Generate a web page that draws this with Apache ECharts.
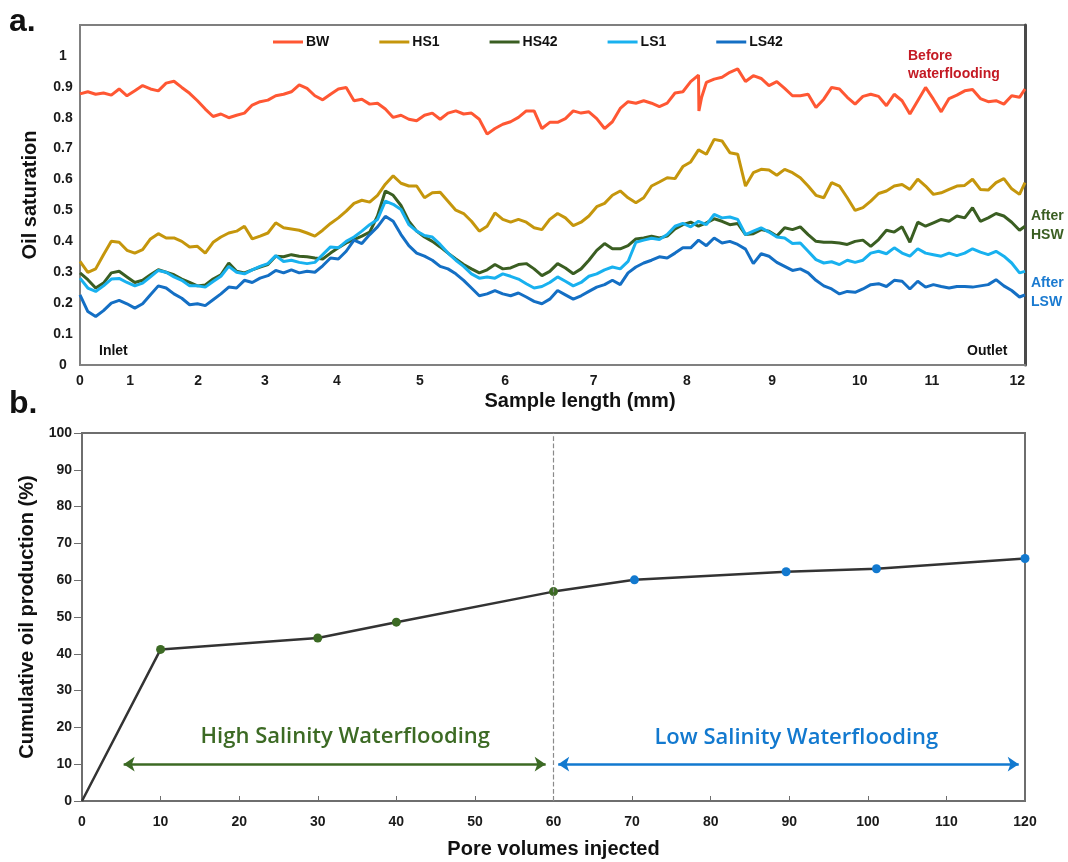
<!DOCTYPE html>
<html>
<head>
<meta charset="utf-8">
<title>Oil saturation profiles and cumulative oil production</title>
<script src="https://cdn.jsdelivr.net/npm/echarts@6/dist/echarts.min.js"></script>
<style>
  html, body { margin: 0; padding: 0; background: #fff; }
  #chart { width: 1068px; height: 862px; }
</style>
</head>
<body>
<div id="chart"></div>
<script>
// ---- panel a: oil saturation along the sample ----
// position along the sample, shared by the five profiles
const pos = [0, 0.1, 0.2, 0.3, 0.4, 0.5, 0.6, 0.7, 0.8, 0.9,
  1, 1.1, 1.2, 1.3, 1.4, 1.5, 1.6, 1.7, 1.8, 1.9,
  2, 2.1, 2.2, 2.3, 2.4, 2.5, 2.6, 2.7, 2.8, 2.9,
  3, 3.1, 3.2, 3.3, 3.4, 3.5, 3.6, 3.7, 3.8, 3.9,
  4, 4.1, 4.2, 4.3, 4.4, 4.5, 4.6, 4.7, 4.8, 4.9,
  5, 5.1, 5.2, 5.3, 5.4, 5.5, 5.6, 5.7, 5.8, 5.9,
  6, 6.1, 6.2, 6.3, 6.4, 6.5, 6.6, 6.7, 6.8, 6.9,
  7, 7.1, 7.2, 7.3, 7.4, 7.5, 7.6, 7.7, 7.8, 7.9,
  8, 8.1, 8.2, 8.3, 8.4, 8.5, 8.6, 8.7, 8.8, 8.9,
  9, 9.1, 9.2, 9.3, 9.4, 9.5, 9.6, 9.7, 9.8, 9.9,
  10, 10.1, 10.2, 10.3, 10.4, 10.5, 10.6, 10.7, 10.8, 10.9,
  11, 11.1, 11.2, 11.3, 11.4, 11.5, 11.6, 11.7, 11.8, 11.9,
  12, 12.07];

const bw = [0.877, 0.884, 0.876, 0.880, 0.873, 0.893, 0.871, 0.887, 0.904, 0.893,
  0.887, 0.912, 0.918, 0.898, 0.879, 0.855, 0.828, 0.804, 0.812, 0.800,
  0.808, 0.815, 0.841, 0.852, 0.857, 0.871, 0.876, 0.884, 0.906, 0.895,
  0.871, 0.858, 0.876, 0.893, 0.898, 0.855, 0.860, 0.844, 0.847, 0.828,
  0.801, 0.808, 0.795, 0.790, 0.808, 0.815, 0.795, 0.815, 0.822, 0.812,
  0.815, 0.795, 0.747, 0.765, 0.779, 0.787, 0.801, 0.822, 0.822, 0.765,
  0.785, 0.785, 0.797, 0.822, 0.815, 0.819, 0.797, 0.765, 0.787, 0.830,
  0.852, 0.847, 0.855, 0.847, 0.836, 0.847, 0.880, 0.884, 0.917, 0.938,
  0.914, 0.925, 0.931, 0.947, 0.958, 0.917, 0.936, 0.927, 0.904, 0.917,
  0.895, 0.871, 0.871, 0.876, 0.833, 0.860, 0.898, 0.893, 0.866, 0.844,
  0.869, 0.876, 0.869, 0.839, 0.876, 0.855, 0.812, 0.855, 0.898, 0.860,
  0.819, 0.862, 0.873, 0.887, 0.891, 0.862, 0.852, 0.855, 0.844, 0.871,
  0.866, 0.893];
// the sharp notch in BW just before 8 mm
const bwNotch = [[7.905, 0.822], [7.94, 0.866]];

const hs1 = [0.335, 0.300, 0.311, 0.357, 0.400, 0.397, 0.371, 0.362, 0.373, 0.408,
  0.425, 0.411, 0.411, 0.400, 0.382, 0.384, 0.362, 0.397, 0.414, 0.427,
  0.433, 0.449, 0.408, 0.417, 0.427, 0.460, 0.444, 0.440, 0.436, 0.427,
  0.417, 0.436, 0.458, 0.476, 0.498, 0.523, 0.533, 0.527, 0.549, 0.585,
  0.612, 0.588, 0.579, 0.579, 0.541, 0.557, 0.559, 0.530, 0.501, 0.490,
  0.465, 0.433, 0.449, 0.492, 0.471, 0.462, 0.471, 0.462, 0.444, 0.438,
  0.471, 0.490, 0.476, 0.451, 0.462, 0.482, 0.512, 0.523, 0.549, 0.563,
  0.541, 0.525, 0.541, 0.579, 0.592, 0.606, 0.603, 0.642, 0.657, 0.696,
  0.682, 0.730, 0.725, 0.687, 0.682, 0.579, 0.622, 0.633, 0.631, 0.614,
  0.633, 0.622, 0.606, 0.579, 0.549, 0.541, 0.590, 0.579, 0.541, 0.500,
  0.509, 0.530, 0.555, 0.563, 0.579, 0.584, 0.568, 0.601, 0.579, 0.552,
  0.557, 0.568, 0.579, 0.581, 0.601, 0.568, 0.566, 0.590, 0.603, 0.570,
  0.552, 0.590];

const hs42 = [0.298, 0.276, 0.249, 0.265, 0.298, 0.303, 0.285, 0.267, 0.274, 0.292,
  0.308, 0.300, 0.292, 0.278, 0.267, 0.256, 0.259, 0.278, 0.292, 0.330,
  0.303, 0.298, 0.308, 0.317, 0.325, 0.352, 0.350, 0.357, 0.352, 0.350,
  0.346, 0.343, 0.362, 0.379, 0.395, 0.406, 0.417, 0.430, 0.482, 0.563,
  0.549, 0.516, 0.465, 0.433, 0.414, 0.400, 0.382, 0.362, 0.343, 0.325,
  0.311, 0.298, 0.308, 0.325, 0.311, 0.314, 0.325, 0.328, 0.311, 0.289,
  0.303, 0.328, 0.314, 0.295, 0.311, 0.339, 0.371, 0.393, 0.376, 0.376,
  0.386, 0.408, 0.411, 0.417, 0.411, 0.417, 0.440, 0.454, 0.462, 0.449,
  0.460, 0.473, 0.465, 0.454, 0.458, 0.422, 0.425, 0.438, 0.433, 0.417,
  0.444, 0.438, 0.447, 0.422, 0.400, 0.397, 0.397, 0.395, 0.390, 0.400,
  0.404, 0.384, 0.406, 0.436, 0.430, 0.447, 0.397, 0.462, 0.449, 0.460,
  0.471, 0.465, 0.482, 0.476, 0.509, 0.465, 0.476, 0.490, 0.482, 0.462,
  0.436, 0.449];

const ls1 = [0.281, 0.249, 0.238, 0.256, 0.278, 0.280, 0.267, 0.256, 0.265, 0.285,
  0.306, 0.300, 0.285, 0.274, 0.256, 0.256, 0.252, 0.270, 0.287, 0.319,
  0.300, 0.295, 0.308, 0.319, 0.328, 0.354, 0.335, 0.339, 0.332, 0.328,
  0.332, 0.357, 0.382, 0.379, 0.400, 0.414, 0.433, 0.454, 0.471, 0.530,
  0.520, 0.503, 0.454, 0.433, 0.419, 0.414, 0.390, 0.362, 0.339, 0.319,
  0.295, 0.281, 0.285, 0.281, 0.295, 0.287, 0.278, 0.263, 0.249, 0.254,
  0.267, 0.285, 0.271, 0.256, 0.267, 0.287, 0.295, 0.308, 0.317, 0.311,
  0.335, 0.397, 0.404, 0.410, 0.406, 0.422, 0.449, 0.458, 0.447, 0.465,
  0.454, 0.487, 0.476, 0.479, 0.471, 0.422, 0.433, 0.444, 0.430, 0.414,
  0.411, 0.393, 0.395, 0.368, 0.341, 0.330, 0.334, 0.325, 0.339, 0.332,
  0.339, 0.362, 0.368, 0.360, 0.379, 0.362, 0.352, 0.376, 0.362, 0.357,
  0.352, 0.362, 0.354, 0.362, 0.376, 0.365, 0.357, 0.368, 0.352, 0.330,
  0.298, 0.303];

const ls42 = [0.227, 0.173, 0.157, 0.176, 0.200, 0.209, 0.198, 0.184, 0.198, 0.227,
  0.256, 0.249, 0.230, 0.216, 0.195, 0.198, 0.192, 0.211, 0.230, 0.252,
  0.249, 0.274, 0.267, 0.281, 0.289, 0.306, 0.298, 0.308, 0.298, 0.303,
  0.300, 0.321, 0.346, 0.343, 0.368, 0.404, 0.393, 0.422, 0.447, 0.481,
  0.465, 0.422, 0.386, 0.362, 0.352, 0.339, 0.319, 0.311, 0.295, 0.274,
  0.249, 0.224, 0.230, 0.241, 0.230, 0.224, 0.233, 0.220, 0.206, 0.198,
  0.213, 0.241, 0.227, 0.213, 0.224, 0.238, 0.252, 0.260, 0.274, 0.260,
  0.298, 0.317, 0.330, 0.339, 0.350, 0.346, 0.362, 0.379, 0.379, 0.404,
  0.386, 0.411, 0.395, 0.400, 0.390, 0.375, 0.328, 0.360, 0.352, 0.332,
  0.319, 0.306, 0.311, 0.298, 0.274, 0.256, 0.246, 0.230, 0.238, 0.235,
  0.246, 0.260, 0.263, 0.254, 0.274, 0.271, 0.246, 0.271, 0.252, 0.260,
  0.254, 0.249, 0.254, 0.254, 0.252, 0.256, 0.260, 0.276, 0.256, 0.241,
  0.220, 0.227];

// tick labels of panel a and where they sit along the sample
const xTickText = ['0', '1', '2', '3', '4', '5', '6', '7', '8', '9', '10', '11', '12'];
const xTickAt = [0, 0.64, 1.51, 2.36, 3.28, 4.34, 5.43, 6.56, 7.75, 8.84, 9.96, 10.88, 11.97];

// ---- panel b: cumulative oil production ----
const poreVolumes = [0, 10, 30, 40, 60, 70.3, 89.6, 101.1, 120];
const recovery = [0, 41.2, 44.3, 48.6, 56.9, 60.1, 62.3, 63.1, 65.9];
const switchPV = 60;

const FONT = '"Liberation Sans", Arial, sans-serif';
const GREEN = '#3c6a24';
const BLUE = '#1279cf';

function profile(vals) {
  return pos.map((x, i) => [x, vals[i]]);
}

const bwData = profile(bw).concat(bwNotch).sort((a, b) => a[0] - b[0]);

const curves = [
  { name: 'BW', data: bwData, color: '#ff5733' },
  { name: 'HS1', data: profile(hs1), color: '#c5960c' },
  { name: 'HS42', data: profile(hs42), color: '#3a5e22' },
  { name: 'LS1', data: profile(ls1), color: '#18b1ef' },
  { name: 'LS42', data: profile(ls42), color: '#146fc4' }
];

const recoveryData = poreVolumes.map((pv, i) => ({
  value: [pv, recovery[i]],
  symbol: i === 0 ? 'none' : 'circle',
  itemStyle: { color: pv <= switchPV ? GREEN : BLUE }
}));

const myChart = echarts.init(document.getElementById('chart'), null, { renderer: 'canvas' });

const labelStyle = { color: '#1a1a1a', fontWeight: 'bold', fontSize: 14, fontFamily: FONT };
const nameStyle = { color: '#111', fontWeight: 'bold', fontSize: 20, fontFamily: FONT };

option = {
  animation: false,
  backgroundColor: '#fff',
  legend: {
    data: curves.map(c => c.name),
    icon: 'rect',
    left: 268,
    top: 30,
    itemWidth: 30,
    itemHeight: 3,
    itemGap: 50,
    selectedMode: false,
    textStyle: { color: '#111', fontWeight: 'bold', fontSize: 14, fontFamily: FONT, padding: [0, 0, 0, -2] }
  },
  grid: [
    { left: 80, right: 43, top: 25, bottom: 497, show: true, borderColor: '#7f7f7f', borderWidth: 2, outerBoundsMode: 'none' },
    { left: 82, right: 43, top: 433, bottom: 61, show: true, borderColor: '#6e6e6e', borderWidth: 2, outerBoundsMode: 'none' }
  ],
  xAxis: [
    {
      type: 'value', gridIndex: 0, min: 0, max: 12.07,
      name: 'Sample length (mm)', nameLocation: 'middle', nameGap: 26,
      nameTextStyle: Object.assign({ padding: [0, 0, 0, 55] }, nameStyle),
      axisLine: { lineStyle: { color: '#808080', width: 2 } },
      axisTick: { show: false },
      splitLine: { show: false },
      axisLabel: Object.assign({
        margin: 9,
        customValues: xTickAt,
        formatter: v => {
          const i = xTickAt.findIndex(t => Math.abs(t - v) < 1e-6);
          return i < 0 ? '' : xTickText[i];
        }
      }, labelStyle)
    },
    {
      type: 'value', gridIndex: 1, min: 0, max: 120, interval: 10,
      name: 'Pore volumes injected', nameLocation: 'middle', nameGap: 38,
      nameTextStyle: nameStyle,
      axisLine: { lineStyle: { color: '#6e6e6e', width: 2 } },
      axisTick: { show: true, inside: true, length: 5, lineStyle: { color: '#6e6e6e' } },
      splitLine: { show: false },
      axisLabel: Object.assign({ margin: 14 }, labelStyle)
    }
  ],
  yAxis: [
    {
      type: 'value', gridIndex: 0, min: 0, max: 1.1, interval: 0.1,
      name: 'Oil saturation', nameLocation: 'middle', nameGap: 40,
      nameTextStyle: nameStyle,
      axisLine: { show: true, lineStyle: { color: '#808080', width: 2 } },
      axisTick: { show: false },
      splitLine: { show: false },
      axisLabel: Object.assign({
        align: 'center', margin: 17,
        formatter: v => (v > 1.05 ? '' : String(+v.toFixed(1)))
      }, labelStyle)
    },
    {
      type: 'value', gridIndex: 0, position: 'right', min: 0, max: 1.1,
      axisLine: { show: true, lineStyle: { color: '#4a4a4a', width: 3 } },
      axisTick: { show: false }, axisLabel: { show: false }, splitLine: { show: false }
    },
    {
      type: 'value', gridIndex: 1, min: 0, max: 100, interval: 10,
      name: 'Cumulative oil production (%)', nameLocation: 'middle', nameGap: 40,
      nameTextStyle: nameStyle,
      axisLine: { show: true, lineStyle: { color: '#6e6e6e', width: 2 } },
      axisTick: { show: true, length: 8, lineStyle: { color: '#6e6e6e' } },
      splitLine: { show: false },
      axisLabel: Object.assign({ margin: 10 }, labelStyle)
    }
  ],
  series: curves.map(c => ({
    name: c.name,
    type: 'line',
    xAxisIndex: 0,
    yAxisIndex: 0,
    data: c.data,
    symbol: 'none',
    color: c.color,
    lineStyle: { color: c.color, width: 3 },
    silent: true
  })).concat([{
    name: 'Cumulative oil production',
    type: 'line',
    xAxisIndex: 1,
    yAxisIndex: 2,
    data: recoveryData,
    symbolSize: 9,
    color: '#333',
    lineStyle: { color: '#333', width: 2.5 },
    silent: true,
    markLine: {
      silent: true,
      symbol: 'none',
      label: { show: false },
      data: [
        { xAxis: switchPV, lineStyle: { type: 'dashed', color: '#8a8a8a', width: 1.2 } },
        [
          { coord: [5.3, 10], symbol: 'arrow', symbolSize: 11, itemStyle: { color: GREEN }, lineStyle: { color: GREEN, width: 2.5, type: 'solid' } },
          { coord: [59, 10], symbol: 'arrow', symbolSize: 11, itemStyle: { color: GREEN }, lineStyle: { color: GREEN, width: 2.5, type: 'solid' } }
        ],
        [
          { coord: [60.6, 10], symbol: 'arrow', symbolSize: 11, itemStyle: { color: BLUE }, lineStyle: { color: BLUE, width: 2.5, type: 'solid' } },
          { coord: [119.2, 10], symbol: 'arrow', symbolSize: 11, itemStyle: { color: BLUE }, lineStyle: { color: BLUE, width: 2.5, type: 'solid' } }
        ]
      ]
    },
    markPoint: {
      silent: true,
      symbol: 'rect',
      symbolSize: 1,
      itemStyle: { color: 'rgba(0,0,0,0)' },
      label: { show: true, position: 'inside', fontFamily: '"Open Sans", Lato, sans-serif', fontWeight: 600, fontSize: 22 },
      data: [
        { coord: [33.5, 17.5], label: { formatter: 'High Salinity Waterflooding', color: GREEN } },
        { coord: [90.9, 17.2], label: { formatter: 'Low Salinity Waterflooding', color: BLUE } }
      ]
    }
  }]),
  graphic: [
    { type: 'text', left: 9, top: 6, style: { text: 'a.', font: 'bold 32px ' + FONT, fill: '#111' } },
    { type: 'text', left: 9, top: 388, style: { text: 'b.', font: 'bold 32px ' + FONT, fill: '#111' } },
    { type: 'text', left: 908, top: 47, style: { text: 'Before\nwaterflooding', font: 'bold 14px ' + FONT, lineHeight: 18, fill: '#c41a24' } },
    { type: 'text', left: 1031, top: 207, style: { text: 'After\nHSW', font: 'bold 14px ' + FONT, lineHeight: 19, fill: '#3a5e22' } },
    { type: 'text', left: 1031, top: 274, style: { text: 'After\nLSW', font: 'bold 14px ' + FONT, lineHeight: 19, fill: '#1a7ad0' } },
    { type: 'text', left: 99, top: 344, style: { text: 'Inlet', font: 'bold 14px ' + FONT, fill: '#111' } },
    { type: 'text', left: 967, top: 344, style: { text: 'Outlet', font: 'bold 14px ' + FONT, fill: '#111' } }
  ]
};

myChart.setOption(option);
</script>
</body>
</html>
